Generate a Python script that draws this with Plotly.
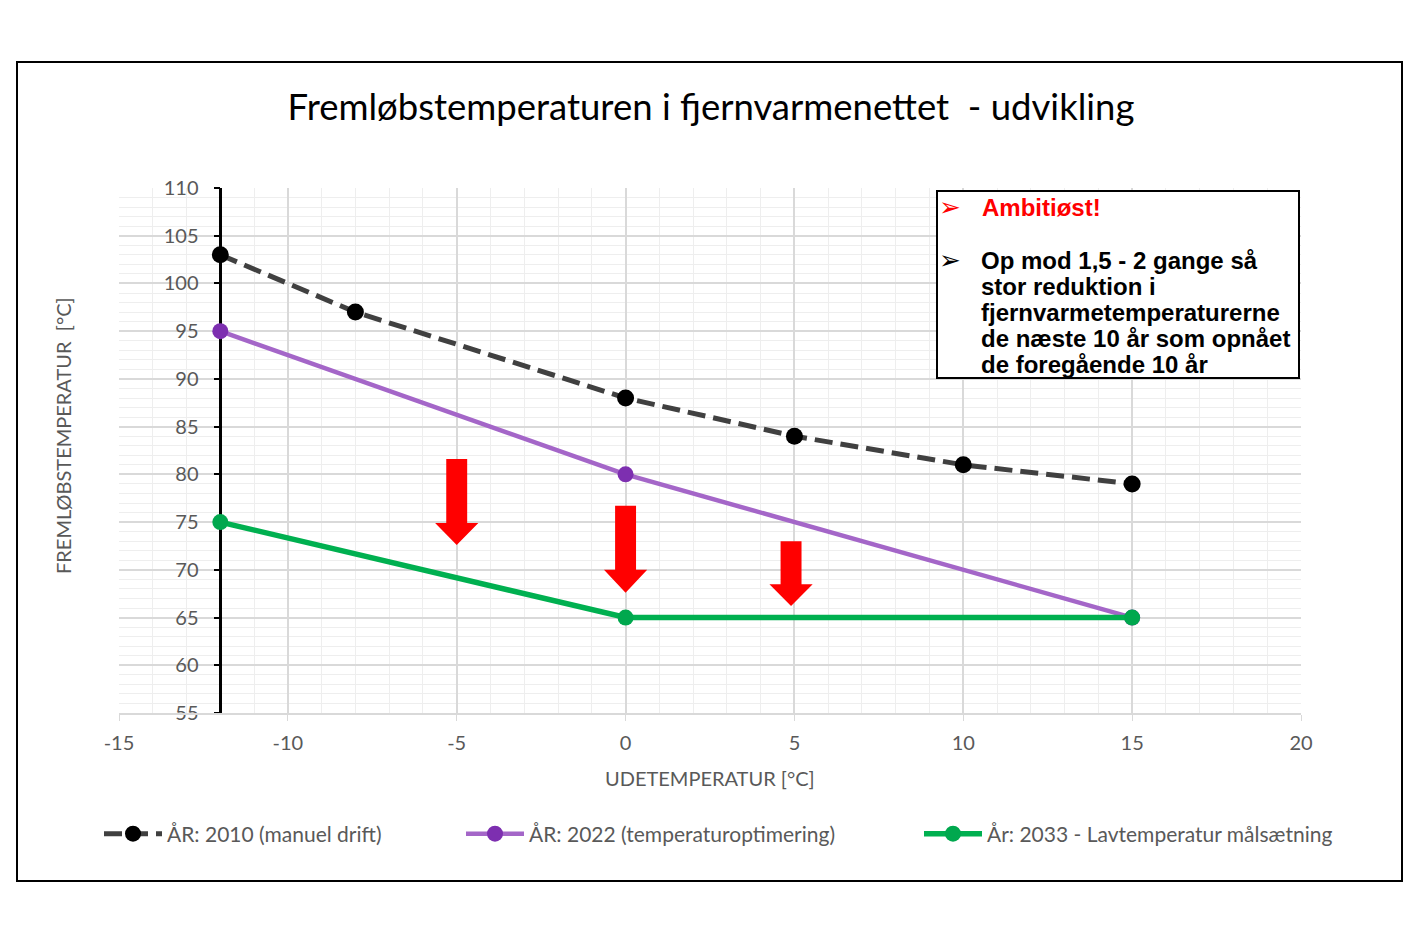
import plotly.graph_objects as go

# ---- data ----
x_2010 = [-12, -8, 0, 5, 10, 15]
y_2010 = [103, 97, 88, 84, 81, 79]
x_2022 = [-12, 0, 15]
y_2022 = [95, 80, 65]
x_2033 = [-12, 0, 15]
y_2033 = [75, 65, 65]

name_2010 = "ÅR: 2010 (manuel drift)"
name_2022 = "ÅR: 2022 (temperaturoptimering)"
name_2033 = "År: 2033 - Lavtemperatur målsætning"

x_tick_vals = [-15, -10, -5, 0, 5, 10, 15, 20]
x_tick_text = ["-15", "-10", "-5", "0", "5", "10", "15", "20"]
y_tick_vals = [55, 60, 65, 70, 75, 80, 85, 90, 95, 100, 105, 110]
y_tick_text = ["55", "60", "65", "70", "75", "80", "85", "90", "95", "100", "105", "110"]

# decorative red arrows (x centre, top, head start, tip) in data units
arrow_x = [-5, 0, 4.9]
arrow_top = [81.6, 76.7, 73.0]
arrow_head = [74.9, 70.0, 68.5]
arrow_tip = [72.6, 67.6, 66.2]

title_text = "Fremløbstemperaturen i fjernvarmenettet  - udvikling"
x_title = "UDETEMPERATUR [°C]"
y_title = "FREMLØBSTEMPERATUR  [°C]"
box_head = "Ambitiøst!"
box_lines = ["Op mod 1,5 - 2 gange så", "stor reduktion i", "fjernvarmetemperaturerne",
             "de næste 10 år som opnået", "de foregående 10 år"]

OFF = 8  # page offset of the figure inside the browser window
W, H = 1420 - OFF, 936 - OFF
# plot area in page pixels: x 119..1301, y 188..713
PL, PR, PT, PB = 119, 1301, 188, 713
L, T = PL - OFF, PT - OFF
R, B = W - (PR - OFF), H - (PB - OFF)
PW, PH = PR - PL, PB - PT
XMIN, XMAX, YMIN, YMAX = -15, 20, 55, 110

def px_x(px):
    return (px - PL) / PW
def px_y(py):
    return (PB - py) / PH
def dx(px):
    return XMIN + (px - PL) / PW * (XMAX - XMIN)
def dy(py):
    return YMAX - (py - PT) / PH * (YMAX - YMIN)

GREY = "#595959"
FONT = "Lato"

fig = go.Figure()
fig.add_trace(go.Scatter(x=x_2010, y=y_2010, name=name_2010, mode="lines+markers",
                         line=dict(color="#404040", width=5, dash="18px,8px"),
                         marker=dict(color="black", size=17), legend="legend"))
fig.add_trace(go.Scatter(x=x_2022, y=y_2022, name=name_2022, mode="lines+markers",
                         line=dict(color="#A466C8", width=4.5),
                         marker=dict(color="#7D2FB0", size=16), legend="legend2"))
fig.add_trace(go.Scatter(x=x_2033, y=y_2033, name=name_2033, mode="lines+markers",
                         line=dict(color="#00B050", width=5.5),
                         marker=dict(color="#00A84E", size=16), legend="legend3"))

shapes = []
# outer frame
shapes.append(dict(type="rect", xref="paper", yref="paper",
                   x0=px_x(17), x1=px_x(1402), y0=px_y(881), y1=px_y(62),
                   line=dict(color="black", width=2), fillcolor="rgba(0,0,0,0)", layer="above"))
# arrows
bw, hw = 0.31, 0.64
for cx, yt, yh, yb in zip(arrow_x, arrow_top, arrow_head, arrow_tip):
    path = (f"M{cx-bw},{yt} L{cx+bw},{yt} L{cx+bw},{yh} L{cx+hw},{yh} "
            f"L{cx},{yb} L{cx-hw},{yh} L{cx-bw},{yh} Z")
    shapes.append(dict(type="path", xref="x", yref="y", path=path,
                       fillcolor="#FF0000", line=dict(width=0), layer="above"))
# text box
shapes.append(dict(type="rect", xref="x", yref="y",
                   x0=dx(937), x1=dx(1299), y0=dy(378), y1=dy(191),
                   fillcolor="white", line=dict(color="black", width=2), layer="above"))

annotations = []
annotations.append(dict(xref="x", yref="y", x=dx(950), y=dy(207), text="➢",
                        xanchor="center", yanchor="middle", showarrow=False,
                        font=dict(family="DejaVu Sans", size=26, color="#FF0000")))
annotations.append(dict(xref="x", yref="y", x=dx(980), y=dy(207), text=f"<b>{box_head}</b>",
                        xanchor="left", yanchor="middle", showarrow=False,
                        font=dict(family="Liberation Sans", size=24, color="#FF0000")))
annotations.append(dict(xref="x", yref="y", x=dx(950), y=dy(260), text="➢",
                        xanchor="center", yanchor="middle", showarrow=False,
                        font=dict(family="DejaVu Sans", size=26, color="black")))
for i, s in enumerate(box_lines):
    annotations.append(dict(xref="x", yref="y", x=dx(979), y=dy(260 + 26 * i),
                            text=f"<b>{s}</b>", xanchor="left", yanchor="middle",
                            showarrow=False,
                            font=dict(family="Liberation Sans", size=24, color="black")))
# axis titles
annotations.append(dict(xref="paper", yref="paper", x=px_x(710), y=px_y(778), text=x_title,
                        xanchor="center", yanchor="middle",
                        showarrow=False, font=dict(family=FONT, size=20, color=GREY)))
annotations.append(dict(xref="paper", yref="paper", x=px_x(63), y=px_y(436), text=y_title,
                        xanchor="center", yanchor="middle",
                        textangle=-90, showarrow=False, font=dict(family=FONT, size=20, color=GREY)))

legend_common = dict(orientation="h", yanchor="middle", y=px_y(834), xanchor="left",
                     font=dict(family=FONT, size=21, color=GREY), itemwidth=58,
                     bgcolor="rgba(0,0,0,0)", borderwidth=0)

fig.update_layout(
    width=W, height=H,
    margin=dict(l=L, r=R, t=T, b=B, autoexpand=False),
    paper_bgcolor="white", plot_bgcolor="white",
    title=dict(text=title_text, x=(711 - OFF) / W, xanchor="center",
               y=1 - (107 - OFF) / H, yanchor="middle",
               xref="container", yref="container",
               font=dict(family=FONT, size=36.5, color="black")),
    xaxis=dict(range=[XMIN, XMAX], tickvals=x_tick_vals, ticktext=x_tick_text,
               showline=True, linecolor="#D9D9D9",
               linewidth=1.5, ticks="outside", tickcolor="#D9D9D9", ticklen=6,
               ticklabelstandoff=5,
               showgrid=True, gridcolor="#D9D9D9", gridwidth=1.5, zeroline=False,
               minor=dict(dtick=1, showgrid=True, gridcolor="#EEEEEE", gridwidth=1),
               tickfont=dict(family=FONT, size=20, color=GREY)),
    yaxis=dict(range=[YMIN, YMAX], tickvals=y_tick_vals, ticktext=y_tick_text,
               anchor="free", position=(-12 - XMIN) / (XMAX - XMIN),
               layer="below traces",
               showline=True, linecolor="black", linewidth=2.5,
               ticks="outside", tickcolor="black", ticklen=6, tickwidth=2,
               ticklabelstandoff=11,
               showgrid=True, gridcolor="#D9D9D9", gridwidth=1.5, zeroline=False,
               minor=dict(dtick=1, showgrid=True, gridcolor="#EEEEEE", gridwidth=1),
               tickfont=dict(family=FONT, size=20, color=GREY)),
    legend=dict(legend_common, x=px_x(99)),
    legend2=dict(legend_common, x=px_x(461)),
    legend3=dict(legend_common, x=px_x(919)),
    shapes=shapes,
    annotations=annotations,
    showlegend=True,
)

fig.write_html("out.html")
